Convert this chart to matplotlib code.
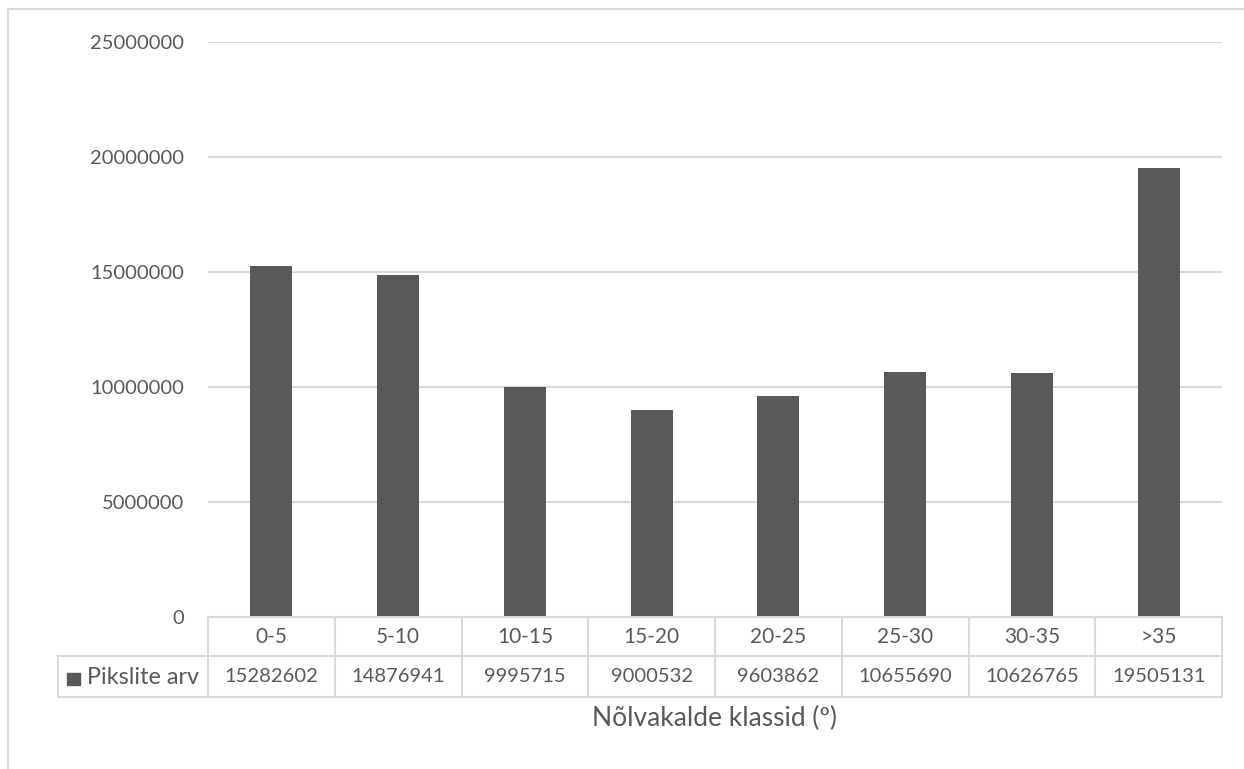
import matplotlib.pyplot as plt
import matplotlib.transforms as mtransforms
from matplotlib.lines import Line2D
from matplotlib.patches import Rectangle

plt.rcParams['font.family'] = ['Lato', 'DejaVu Sans']

# andmed
klassid = ['0-5', '5-10', '10-15', '15-20', '20-25', '25-30', '30-35', '>35']
pikslid = [15282602, 14876941, 9995715, 9000532, 9603862, 10655690, 10626765, 19505131]
y_ticks = [0, 5000000, 10000000, 15000000, 20000000, 25000000]

tekst = '#595959'
joon = '#D9D9D9'
W, H = 1244, 769

fig = plt.figure(figsize=(W / 100, H / 100), dpi=100)

# ääris ümber kogu graafiku
fig.add_artist(Rectangle((8 / W, -0.1), 1.2, 1 - 9 / H + 0.1, transform=fig.transFigure,
                         fill=False, edgecolor=joon, linewidth=1.5))

ax = fig.add_axes([208 / W, 1 - 617 / H, (1222 - 208) / W, (617 - 42) / H])

x = range(len(klassid))
ax.bar(x, pikslid, width=0.33, color='#595959', zorder=3)

ax.set_xlim(-0.5, len(klassid) - 0.5)
ax.set_ylim(0, 25000000)
ax.set_yticks(y_ticks)
ax.set_yticklabels([str(v) for v in y_ticks], fontsize=14.5, color=tekst)
ax.tick_params(axis='y', length=0, pad=17)
ax.set_xticks([])
ax.grid(axis='y', color=joon, linewidth=1.5, zorder=0)
for s in ax.spines.values():
    s.set_visible(False)

# andmetabel graafiku all (x andmekoordinaatides, y pikslites)
px = mtransforms.blended_transform_factory(ax.transData, fig.transFigure)
fy = lambda p: 1 - p / H
lw = 1.5

def hjoon(x0, x1, yp, t=px):
    fig.add_artist(Line2D([x0, x1], [fy(yp), fy(yp)], transform=t, color=joon, linewidth=lw))

def vjoon(xv, y0, y1, t=px):
    fig.add_artist(Line2D([xv, xv], [fy(y0), fy(y1)], transform=t, color=joon, linewidth=lw))

lo, hi = -0.5, len(klassid) - 0.5
hjoon(lo, hi, 617)
for yp in (656, 697):
    hjoon(lo, hi, yp)
    hjoon(58 / W, 208 / W, yp, t=fig.transFigure)
for k in range(len(klassid) + 1):
    vjoon(lo + k, 617, 697)
vjoon(58 / W, 656, 697, t=fig.transFigure)

for i, (k, v) in enumerate(zip(klassid, pikslid)):
    fig.text(i, fy(637), k, transform=px, ha='center', va='center', fontsize=15, color=tekst)
    fig.text(i, fy(677), str(v), transform=px, ha='center', va='center', fontsize=14.5, color=tekst)

# legendi võti ja rea nimi
fig.add_artist(Rectangle((67 / W, fy(685)), 13 / W, 12 / H, transform=fig.transFigure,
                         color='#595959'))
fig.text(87 / W, fy(677), 'Pikslite arv', ha='left', va='center', fontsize=16.8, color=tekst)

fig.text((208 + 1222) / 2 / W, fy(718), 'Nõlvakalde klassid (º)', ha='center', va='center',
         fontsize=19, color=tekst)

fig.savefig('out.png', dpi=100)
